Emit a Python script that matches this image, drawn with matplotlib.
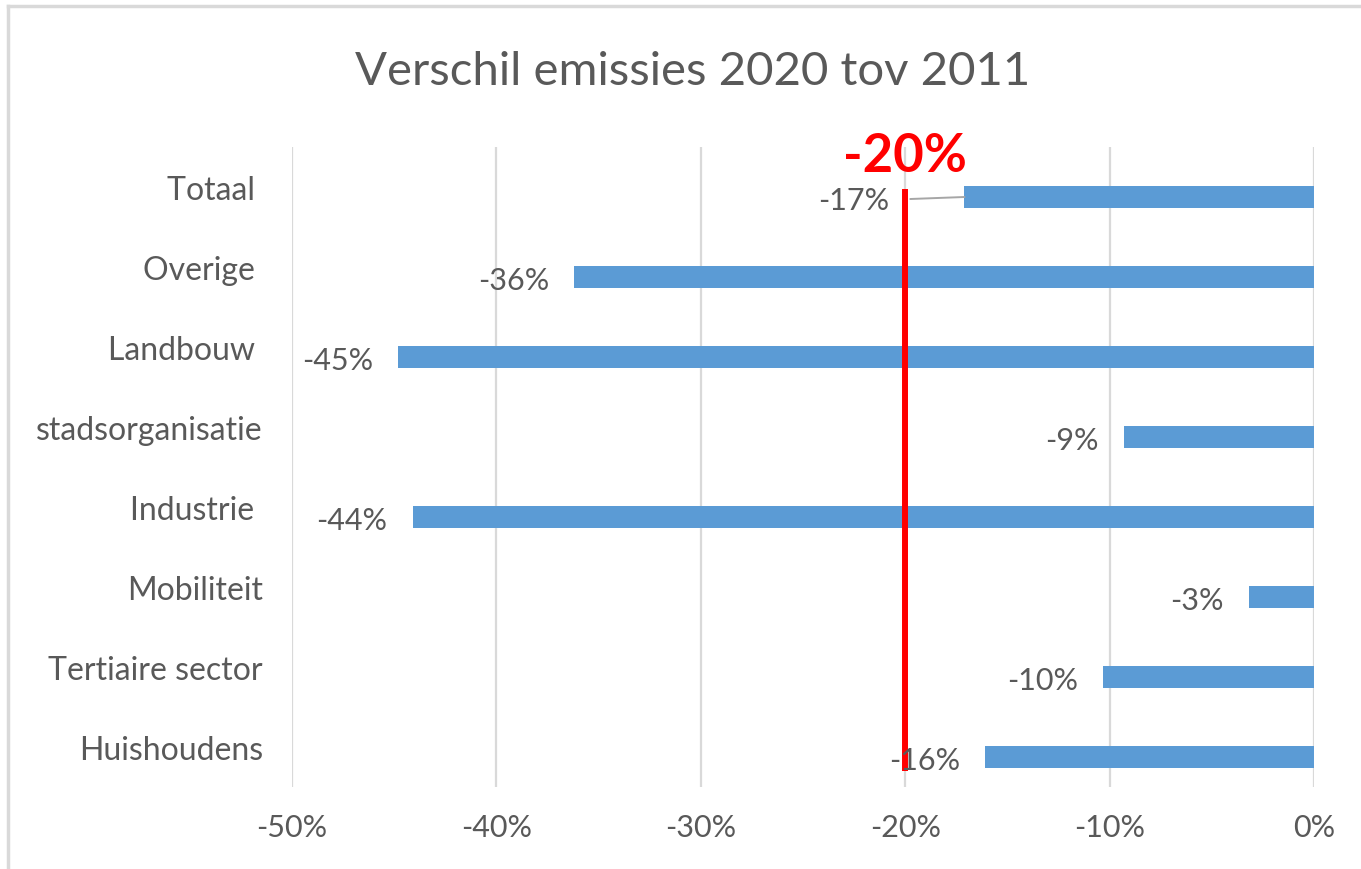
import numpy as np
import matplotlib
matplotlib.use("Agg")
import matplotlib.pyplot as plt
from matplotlib.lines import Line2D
from matplotlib.ticker import FuncFormatter

plt.rcParams['font.family'] = ['Lato', 'DejaVu Sans']

# data
categories = ["Totaal ", "Overige ", "Landbouw ", "stadsorganisatie",
              "Industrie ", "Mobiliteit", "Tertiaire sector", "Huishoudens"]
values = [-17.1, -36.2, -44.8, -9.3, -44.1, -3.2, -10.3, -16.1]
labels = ["-17%", "-36%", "-45%", "-9%", "-44%", "-3%", "-10%", "-16%"]
target = -20
target_label = "-20%"
xticks = [-50, -40, -30, -20, -10, 0]

grey = "#595959"
blue = "#5B9BD5"

fig = plt.figure(figsize=(13.61, 8.7), dpi=100)
ax = fig.add_axes([292 / 1361, 1 - 788 / 870, (1314 - 292) / 1361, 640 / 870])

ypos = np.arange(len(categories))
bar_y = ypos + 0.125
ax.barh(bar_y, values, height=0.27, color=blue, zorder=3)

ax.set_xlim(-50, 0)
ax.set_ylim(len(categories) - 0.5, -0.5)
ax.set_xticks(xticks)
ax.xaxis.set_major_formatter(FuncFormatter(lambda v, p: f"{v:.0f}%"))
ax.set_yticks(ypos)
ax.set_yticklabels(categories)
ax.tick_params(axis='x', length=0, pad=19, labelsize=22, labelcolor=grey)
ax.tick_params(axis='y', length=0, pad=21, labelsize=23, labelcolor=grey)
ax.grid(axis='x', color="#D9D9D9", linewidth=1.6, zorder=0)
for s in ax.spines.values():
    s.set_visible(False)

# value labels
for i, (v, lab) in enumerate(zip(values, labels)):
    if i == 0:
        ax.annotate(lab, xy=(v, bar_y[i]), xytext=(-54, -2), textcoords='offset points',
                    ha='right', va='center', fontsize=22, color=grey,
                    arrowprops=dict(arrowstyle='-', color="#A6A6A6", lw=1.4,
                                    shrinkA=13, shrinkB=0, relpos=(1, 0.5)),
                    zorder=5)
    else:
        ax.annotate(lab, xy=(v, bar_y[i]), xytext=(-18, -2), textcoords='offset points',
                    ha='right', va='center', fontsize=22, color=grey, zorder=5)

# target line
ax.plot([target, target], [0.025, 7.3], color="#FF0000", lw=4.3, zorder=4,
        solid_capstyle='butt')
ax.text(target, -0.4, target_label, ha='center', va='center', fontsize=38,
        fontweight='bold', color="#FF0000", zorder=6)

fig.text(0.509, 1 - 72 / 870, "Verschil emissies 2020 tov 2011", ha='center',
         va='center', fontsize=34, color=grey)

# chart border
fig.add_artist(Line2D([8 / 1361, 1], [1 - 7 / 870, 1 - 7 / 870],
                      transform=fig.transFigure, color="#D9D9D9", lw=2.5))
fig.add_artist(Line2D([8 / 1361, 8 / 1361], [0, 1 - 7 / 870],
                      transform=fig.transFigure, color="#D9D9D9", lw=2.5))

fig.savefig("out.png", dpi=100)
